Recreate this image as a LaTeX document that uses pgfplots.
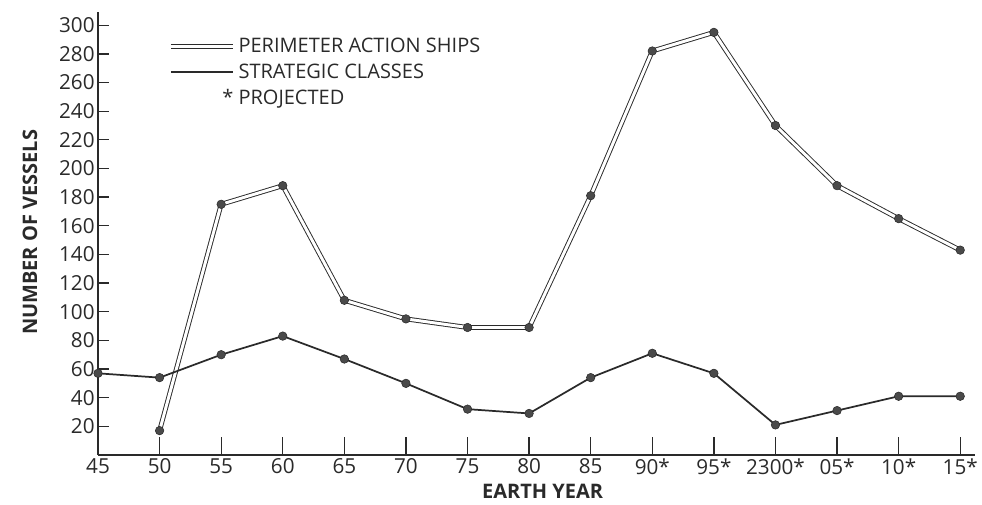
\documentclass[border=0pt]{standalone}
\usepackage{pgfplots}
\usepackage{pgfplotstable}
\pgfplotsset{compat=1.18}
\usepackage{fontspec}
\setmainfont{Open Sans}
\definecolor{ink}{HTML}{2A2A2A}

% year index 0 = 45, 1 = 50, ... 14 = 2315
\pgfplotstableread{
x p
1 17
2 175
3 188
4 108
5 95
6 89
7 89
8 181
9 282
10 295
11 230
12 188
13 165
14 143
}\perimeter
\pgfplotstableread{
x s
0 57
1 54
2 70
3 83
4 67
5 50
6 32
7 29
8 54
9 71
10 57
11 21
12 31
13 41
14 41
}\strategic

\begin{document}
\begin{tikzpicture}
\path[use as bounding box] (0,0) rectangle (736.5pt,378.75pt);
\begin{axis}[
    at={(73.5pt,37.5pt)}, anchor=south west,
    scale only axis, width=657.75pt, height=332pt,
    xmin=0, xmax=14.24, ymin=0, ymax=309,
    axis x line=bottom, axis y line=left,
    axis line style={-, line width=1.3pt, ink},
    tick align=inside,
    xtick={0,...,14},
    xticklabels={45,50,55,60,65,70,75,80,85,90*,95*,2300*,05*,10*,15*},
    ytick={20,40,...,300},
    xtick style={/pgfplots/major tick length=13.5pt, line width=1pt, ink},
    ytick style={/pgfplots/major tick length=8pt, line width=1pt, ink},
    tick label style={font=\fontsize{15.5}{18}\selectfont, text=ink},
    yticklabel style={xshift=1pt},
    xticklabel style={yshift=1pt},
    /pgf/number format/assume math mode=true,
    xlabel={\textbf{EARTH YEAR}},
    ylabel={\textbf{NUMBER OF VESSELS}},
    label style={font=\fontsize{15}{18}\selectfont, text=ink},
    xlabel style={at={(axis description cs:0.507,-0.083)}, anchor=center},
    ylabel style={at={(axis description cs:-0.0775,0.503)}, anchor=center},
    legend style={at={(axis description cs:0.08,0.948)}, anchor=north west,
        draw=none, fill=none, font=\fontsize{15}{18}\selectfont,
        text=ink, row sep=2.8pt, inner sep=0pt},
    legend cell align=left,
    legend image code/.code={\draw[#1] (0pt,0pt) -- (47pt,0pt);},
]
\addplot[ink, line width=0.7pt, double=white, double distance=2.2pt]
    table[x=x, y=p] {\perimeter};
\addlegendentry{PERIMETER ACTION SHIPS}
\addplot[ink, line width=1.3pt]
    table[x=x, y=s] {\strategic};
\addlegendentry{STRATEGIC CLASSES}
\addlegendimage{empty legend}
\addlegendentry{\llap{*\ }PROJECTED}
\addplot[only marks, mark=*, mark size=3.2pt, mark options={fill=ink!85, draw=ink}, forget plot]
    table[x=x, y=p] {\perimeter};
\addplot[only marks, mark=*, mark size=3.2pt, mark options={fill=ink!85, draw=ink}, forget plot]
    table[x=x, y=s] {\strategic};
\end{axis}
\end{tikzpicture}
\end{document}
